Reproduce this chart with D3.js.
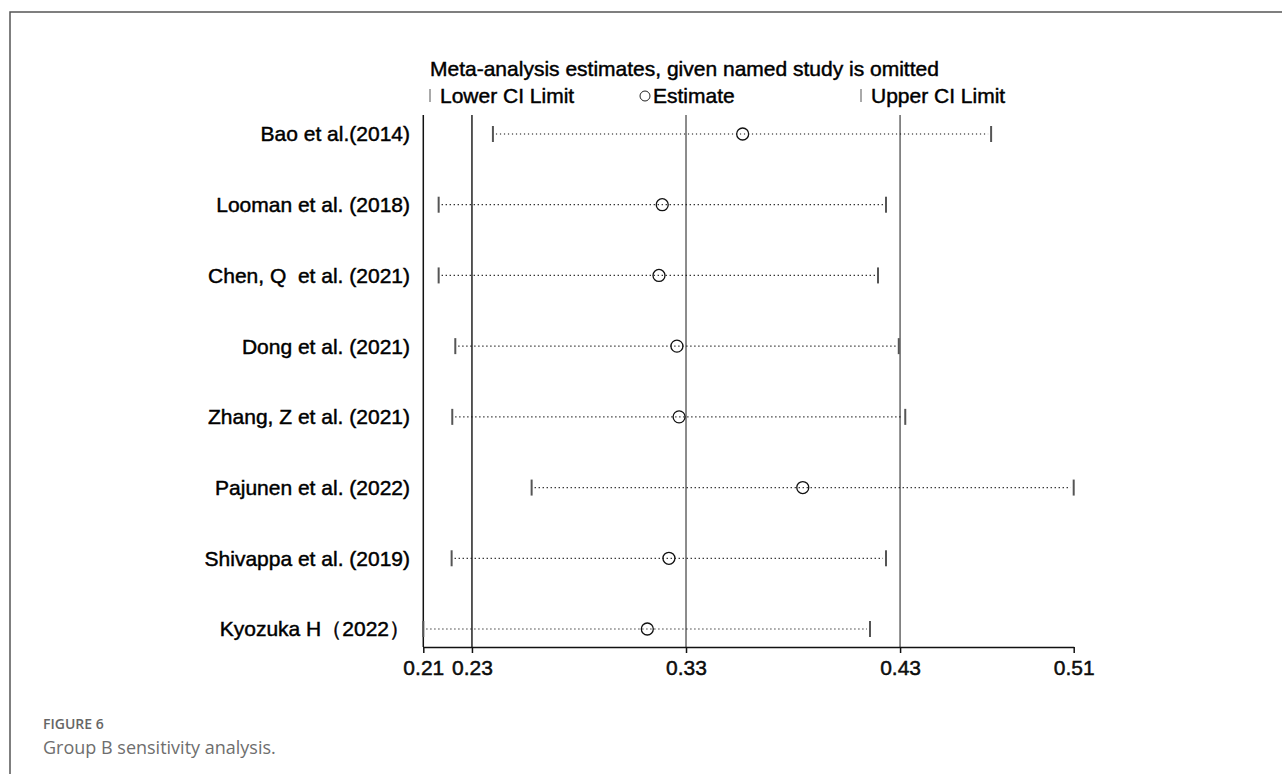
<!DOCTYPE html>
<html>
<head>
<meta charset="utf-8">
<script src="https://cdn.jsdelivr.net/npm/d3@7"></script>
<style>
  body { margin: 0; background: #fff; }
  svg { display: block; }
  .heavy { stroke: #000; stroke-width: 0.45px; white-space: pre; }
</style>
</head>
<body>
<div id="chart"></div>
<script>
// studies omitted one at a time
var studies = ["Bao et al.(2014)", "Looman et al. (2018)", "Chen, Q  et al. (2021)",
    "Dong et al. (2021)", "Zhang, Z et al. (2021)", "Pajunen et al. (2022)",
    "Shivappa et al. (2019)", "Kyozuka H\uFF082022\uFF09"];
var lowerCI   = [0.2417, 0.2166, 0.2166, 0.2243, 0.2229, 0.2596, 0.2226, 0.2095];
var estimates = [0.3572, 0.3200, 0.3185, 0.3268, 0.3278, 0.3850, 0.3231, 0.3131];
var upperCI   = [0.4721, 0.4235, 0.4198, 0.4294, 0.4324, 0.5103, 0.4235, 0.4161];

// pooled estimate with all studies, and axis ticks
var pooled = [0.232, 0.331, 0.430];
var tickValues = [0.2095, 0.232, 0.331, 0.430, 0.5103];
var tickLabels = ["0.21", "0.23", "0.33", "0.43", "0.51"];

var W = 1282, H = 774;
var font = "'Liberation Sans', Arial, sans-serif";

var svg = d3.select("#chart").append("svg")
    .attr("width", W)
    .attr("height", H);

svg.append("rect").attr("width", W).attr("height", H).attr("fill", "#fff");

// figure frame (top + left)
svg.append("path")
    .attr("d", "M10,774 L10,12 L1282,12")
    .attr("fill", "none")
    .attr("stroke", "#555")
    .attr("stroke-width", 1.5);

var x = d3.scaleLinear()
    .domain([tickValues[0], tickValues[tickValues.length - 1]])
    .range([423.3, 1073.7]);

var y = d3.scalePoint()
    .domain(studies)
    .range([134, 629]);

var plotTop = 115, plotBottom = 647;

// title + legend
svg.append("text")
    .attr("class", "heavy")
    .attr("x", 430).attr("y", 76)
    .style("font-family", font).style("font-size", "21px")
    .text("Meta-analysis estimates, given named study is omitted");

var legend = svg.append("g").style("font-family", font).style("font-size", "21px");
legend.append("line").attr("x1", 430).attr("x2", 430).attr("y1", 89).attr("y2", 102)
    .attr("stroke", "#555").attr("stroke-width", 1);
legend.append("text").attr("class", "heavy").attr("x", 440).attr("y", 103).text("Lower CI Limit");
legend.append("circle").attr("cx", 645).attr("cy", 96).attr("r", 5)
    .attr("fill", "none").attr("stroke", "#222").attr("stroke-width", 1);
legend.append("text").attr("class", "heavy").attr("x", 653).attr("y", 103).text("Estimate");
legend.append("line").attr("x1", 861).attr("x2", 861).attr("y1", 89).attr("y2", 102)
    .attr("stroke", "#555").attr("stroke-width", 1);
legend.append("text").attr("class", "heavy").attr("x", 871).attr("y", 103).text("Upper CI Limit");

// y axis line
svg.append("line")
    .attr("x1", x(tickValues[0])).attr("x2", x(tickValues[0]))
    .attr("y1", plotTop).attr("y2", plotBottom)
    .attr("stroke", "#111").attr("stroke-width", 1.5);

// pooled reference lines
svg.selectAll(".ref")
    .data(pooled)
    .enter().append("line")
    .attr("class", "ref")
    .attr("x1", d => x(d)).attr("x2", d => x(d))
    .attr("y1", plotTop).attr("y2", plotBottom)
    .attr("stroke", (d, i) => i == 0 ? "#222" : "#666")
    .attr("stroke-width", 1.5);

// study rows
var rows = svg.selectAll(".row")
    .data(studies)
    .enter().append("g")
    .attr("class", "row")
    .attr("transform", d => "translate(0," + y(d) + ")");

rows.append("text")
    .attr("class", "heavy")
    .attr("x", 410).attr("y", 0).attr("dy", "0.35em")
    .attr("text-anchor", "end")
    .style("font-family", font).style("font-size", "21px")
    .text(d => d);

rows.append("line")
    .attr("x1", (d, i) => x(lowerCI[i]) + 3)
    .attr("x2", (d, i) => x(upperCI[i]) - 3)
    .attr("stroke", "#111")
    .attr("stroke-width", 1.2)
    .attr("stroke-dasharray", "1.2,2.8");

rows.append("line")
    .attr("x1", (d, i) => x(lowerCI[i])).attr("x2", (d, i) => x(lowerCI[i]))
    .attr("y1", -8).attr("y2", 8)
    .attr("stroke", "#555").attr("stroke-width", 2);

rows.append("line")
    .attr("x1", (d, i) => x(upperCI[i])).attr("x2", (d, i) => x(upperCI[i]))
    .attr("y1", -8).attr("y2", 8)
    .attr("stroke", "#555").attr("stroke-width", 2);

rows.append("circle")
    .attr("cx", (d, i) => x(estimates[i]))
    .attr("r", 6)
    .attr("fill", "none")
    .attr("stroke", "#111")
    .attr("stroke-width", 1.3);

// x axis
var xAxis = d3.axisBottom(x)
    .tickValues(tickValues)
    .tickFormat((d, i) => tickLabels[i])
    .tickSize(6)
    .tickSizeOuter(0)
    .tickPadding(7);

var gx = svg.append("g")
    .attr("transform", "translate(0," + plotBottom + ")")
    .call(xAxis);
gx.select(".domain").attr("stroke", "#111").attr("stroke-width", 1.5);
gx.selectAll(".tick line").attr("stroke", "#111").attr("stroke-width", 1.5);
gx.selectAll(".tick text")
    .attr("class", "heavy")
    .attr("fill", "#111")
    .style("font-family", font)
    .style("font-size", "21px");

// caption
svg.append("text")
    .attr("x", 43).attr("y", 729)
    .attr("fill", "#666")
    .style("font-family", "'Open Sans', 'Noto Sans', sans-serif")
    .style("font-size", "14px")
    .style("font-weight", 600)
    .text("FIGURE 6");

svg.append("text")
    .attr("x", 43).attr("y", 754)
    .attr("fill", "#6e6e6e")
    .style("font-family", "'Open Sans', 'Noto Sans', sans-serif")
    .style("font-size", "18px")
    .text("Group B sensitivity analysis.");
</script>
</body>
</html>
